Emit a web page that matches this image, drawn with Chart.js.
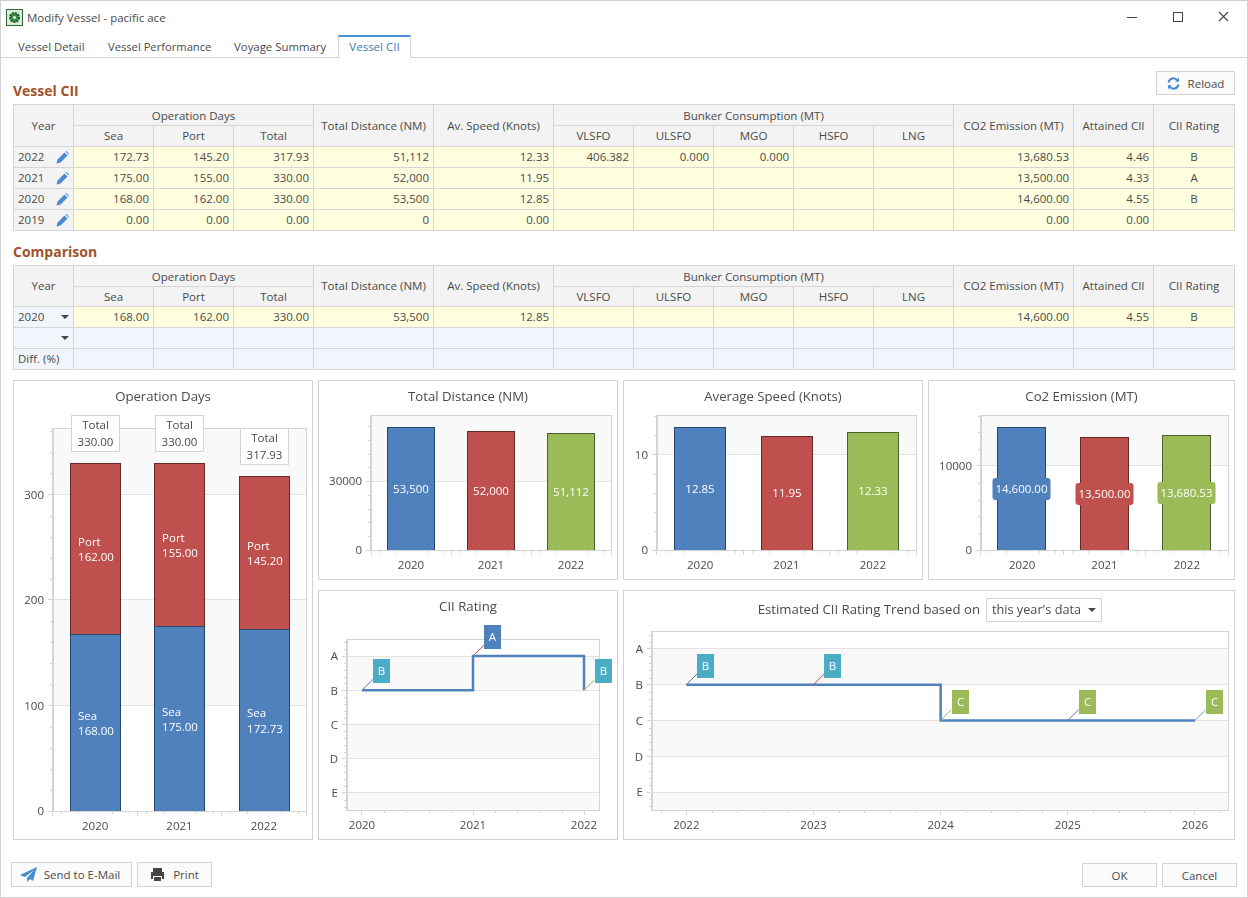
<!DOCTYPE html>
<html>
<head>
<meta charset="utf-8">
<title>Modify Vessel - pacific ace</title>
<script src="https://cdn.jsdelivr.net/npm/chart.js@4"></script>
<style>
    * { box-sizing: border-box; }
    html, body { margin: 0; padding: 0; background: #fff; }
    body { width: 1248px; height: 898px; position: relative; overflow: hidden; font: 11.5px "Open Sans", sans-serif; color: #4a4a4a; }
    .abs { position: absolute; white-space: nowrap; }
    #frame { left: 0; top: 0; width: 1248px; height: 898px; border: 1px solid #d0d0d0; border-top-width: 1px; }
    .tab { top: 39px; line-height: 16px; }
    .section { left: 13px; font-size: 14px; font-weight: 700; color: #a0522d; }
    .btn { border: 1px solid #d4d4d4; background: #fbfbfb; text-align: center; display: flex; align-items: center; justify-content: center; gap: 8px; }
    table { position: absolute; left: 13px; width: 1221px; table-layout: fixed; border-collapse: collapse; }
    td, th { border: 1px solid #d6d6d6; padding: 0 4px; font-weight: 400; overflow: hidden; white-space: nowrap; line-height: 14px; height: 21px; position: relative; }
    th { background: #f3f3f3; text-align: center; }
    th[colspan] { padding-top: 2px; }
    th.low { height: 20px; }
    td { background: #ffffe0; text-align: right; }
    td.c { text-align: center; }
    td.yr { background: #f3f3f3; text-align: left; }
    td.yrc { background: #f0f6fc; text-align: left; }
    td.blue { background: #f1f5fd; }
    .arrow { position: absolute; right: 4px; top: 8px; width: 0; height: 0; border-left: 4px solid transparent; border-right: 4px solid transparent; border-top: 4px solid #444; }
    .panel { position: absolute; border: 1px solid #d4d4d4; background: #fff; }
    .panel canvas { position: absolute; left: -1px; top: -1px; }
    .ctitle { position: absolute; left: 0; right: 0; top: 6px; text-align: center; font-size: 13.2px; line-height: 18px; }
</style>
</head>
<body>
<div class="abs" id="frame"></div>

<svg class="abs" style="left:6px;top:9px" width="17" height="17" viewBox="0 0 17 17">
    <rect x="0.5" y="0.5" width="16" height="16" fill="#d8ecd8" stroke="#2e6b3a"/>
    <circle cx="8.5" cy="8.5" r="4.5" fill="#3d8a4c" stroke="#1f5a2c" stroke-dasharray="2 1" stroke-width="2"/>
    <circle cx="8.5" cy="8.5" r="1.6" fill="#d8ecd8"/>
</svg>
<div class="abs" style="left:27px;top:10px;line-height:16px">Modify Vessel - pacific ace</div>
<svg class="abs" style="left:1120px;top:8px" width="115" height="20" viewBox="0 0 115 20" fill="none" stroke="#444">
    <path d="M7 9.5h10"/><rect x="53.5" y="4.5" width="9" height="9"/><path d="M99 4l9 9M108 4l-9 9" stroke-width="1.1"/>
</svg>

<div class="abs" style="left:1px;top:57px;width:1246px;height:1px;background:#d4d4d4"></div>
<div class="abs tab" style="left:18px;font-size:11.3px">Vessel Detail</div>
<div class="abs tab" style="left:108px;font-size:11.2px">Vessel Performance</div>
<div class="abs tab" style="left:234px;font-size:11.4px">Voyage Summary</div>
<div class="abs" style="left:338px;top:35px;width:73px;height:23px;background:#fff;border:1px solid #d4d4d4;border-top:2px solid #4a90d9;border-bottom:0;text-align:center;line-height:20px;color:#3f7cb8">Vessel CII</div>

<div class="abs section" style="top:82px;line-height:18px">Vessel CII</div>
<div class="abs btn" style="left:1156px;top:71px;width:79px;height:24px">
    <svg width="13" height="13" viewBox="0 0 13 13" fill="none" stroke="#4a8ad0" stroke-width="2"><path d="M1.5 5.5A5 5 0 0 1 10.5 3.5M11.5 7.5A5 5 0 0 1 2.5 9.5"/><path d="M12 0.8v4h-4zM1 12.2v-4h4z" fill="#4a8ad0" stroke="none"/></svg>
    <span>Reload</span>
</div>
<div class="abs section" style="top:243px;line-height:18px">Comparison</div>

<div class="panel" id="p-days" style="left:13px;top:380px;width:300px;height:460px"><div class="ctitle">Operation Days</div></div>
<div class="panel" id="p-dist" style="left:318px;top:380px;width:300px;height:200px"><div class="ctitle">Total Distance (NM)</div></div>
<div class="panel" id="p-speed" style="left:623px;top:380px;width:300px;height:200px"><div class="ctitle">Average Speed (Knots)</div></div>
<div class="panel" id="p-co2" style="left:928px;top:380px;width:307px;height:200px"><div class="ctitle">Co2 Emission (MT)</div></div>
<div class="panel" id="p-cii" style="left:318px;top:590px;width:300px;height:250px"><div class="ctitle">CII Rating</div></div>
<div class="panel" id="p-trend" style="left:623px;top:590px;width:612px;height:250px">
    <div class="abs" style="right:254px;top:9px;font-size:13.2px;line-height:18px">Estimated CII Rating Trend based on</div>
    <div class="abs" style="left:362px;top:7px;width:116px;height:24px;border:1px solid #d4d4d4;padding-left:5px;font-size:12.7px;line-height:21px">this year's data<span class="arrow" style="top:9px;right:5px"></span></div>
</div>

<div class="abs btn" style="left:11px;top:862px;width:121px;height:25px;gap:6px;padding-right:3px">
    <svg width="18" height="15" viewBox="0 0 18 15"><path d="M17 0L0 8l5 2 9-7-7 8v4l3-3 3 2z" fill="#4a8ad0"/></svg>
    <span>Send to E-Mail</span>
</div>
<div class="abs btn" style="left:137px;top:862px;width:75px;height:25px">
    <svg width="15" height="15" viewBox="0 0 15 15"><path d="M3 1h9v4H3zM1 5h13v7h-2V9H3v3H1zM4 10h7v4H4z" fill="#444"/></svg>
    <span>Print</span>
</div>
<div class="abs btn" style="left:1082px;top:863px;width:75px;height:24px">OK</div>
<div class="abs btn" style="left:1162px;top:863px;width:75px;height:24px">Cancel</div>

<script>
// table rows, newest first, as shown in the grid
const colWidths = [60, 80, 80, 80, 120, 120, 80, 80, 80, 80, 80, 120, 80, 81];
const vesselRows = [
    ['2022', '172.73', '145.20', '317.93', '51,112', '12.33', '406.382', '0.000', '0.000', '', '', '13,680.53', '4.46', 'B'],
    ['2021', '175.00', '155.00', '330.00', '52,000', '11.95', '', '', '', '', '', '13,500.00', '4.33', 'A'],
    ['2020', '168.00', '162.00', '330.00', '53,500', '12.85', '', '', '', '', '', '14,600.00', '4.55', 'B'],
    ['2019', '0.00', '0.00', '0.00', '0', '0.00', '', '', '', '', '', '0.00', '0.00', '']
];
const comparisonRow = ['2020', '168.00', '162.00', '330.00', '53,500', '12.85', '', '', '', '', '', '14,600.00', '4.55', 'B'];

// chart values
const years = ['2020', '2021', '2022'];
const seaDays = [168, 175, 172.73];
const portDays = [162, 155, 145.2];
const totalDays = [330, 330, 317.93];
const distances = [53500, 52000, 51112];
const speeds = [12.85, 11.95, 12.33];
const emissions = [14600, 13500, 13680.53];
const ratingLetters = ['E', 'D', 'C', 'B', 'A'];
const ciiYears = [2020, 2021, 2022];
const ciiRatings = ['B', 'A', 'B'];
const trendYears = [2022, 2023, 2024, 2025, 2026];
const trendRatings = ['B', 'B', 'C', 'C', 'C'];

const BLUE = '#4f81bd', RED = '#c0504d', GREEN = '#9bbb59', PURPLE = '#8064a2', TEAL = '#4bacc6';
const palette = [BLUE, RED, GREEN, PURPLE, TEAL];
const barEdges = ['#27466f', '#652a28', '#4e5e2c'];
const ratingColors = { A: BLUE, B: TEAL, C: GREEN };
const FONT = '"Open Sans", sans-serif';
const TEXT = '#4a4a4a';

Chart.defaults.font.family = FONT;
Chart.defaults.font.size = 11.5;
Chart.defaults.color = TEXT;
Chart.defaults.animation = false;

function cellsHtml(row) {
    return row.slice(1).map((v, i) => `<td class="${i === 12 ? 'c' : ''}">${v}</td>`).join('');
}

function headerHtml(subClass) {
    const subs = ['Sea', 'Port', 'Total', 'VLSFO', 'ULSFO', 'MGO', 'HSFO', 'LNG'];
    return `<colgroup>${colWidths.map(w => `<col style="width:${w}px">`).join('')}</colgroup>
    <tr><th rowspan="2">Year</th><th colspan="3">Operation Days</th><th rowspan="2">Total Distance (NM)</th><th rowspan="2">Av. Speed (Knots)</th>
    <th colspan="5">Bunker Consumption (MT)</th><th rowspan="2">CO2 Emission (MT)</th><th rowspan="2">Attained CII</th><th rowspan="2">CII Rating</th></tr>
    <tr>${subs.map(s => `<th class="${subClass}">${s}</th>`).join('')}</tr>`;
}

const pencil = '<svg style="position:absolute;right:4px;top:4px" width="13" height="13" viewBox="0 0 13 13"><path d="M0.5 12.5l1-4 7-7 3 3-7 7z M9.5 0.5l1-0.4 2.4 2.4-0.4 1z" fill="#4a8ad0"/></svg>';

function buildTables() {
    const vessel = document.createElement('table');
    vessel.style.top = '104px';
    vessel.innerHTML = headerHtml('') + vesselRows.map(r =>
        `<tr><td class="yr">${r[0]}${pencil}</td>${cellsHtml(r)}</tr>`).join('');
    document.body.appendChild(vessel);

    const blanks = new Array(13).fill('<td class="blue"></td>').join('');
    const comparison = document.createElement('table');
    comparison.style.top = '265px';
    comparison.innerHTML = headerHtml('low') +
        `<tr><td class="yrc">${comparisonRow[0]}<span class="arrow"></span></td>${cellsHtml(comparisonRow)}</tr>` +
        `<tr><td class="yrc"><span class="arrow"></span></td>${blanks}</tr>` +
        `<tr><td class="yr" style="background:#f1f5fd">Diff. (%)</td>${blanks}</tr>`;
    document.body.appendChild(comparison);
}

// alternating bands, outer frame and the short minor ticks of each plot
const plotFrame = {
    id: 'plotFrame',
    beforeDraw(chart) {
        const { ctx, chartArea: a, scales: { y } } = chart;
        ctx.save();
        ctx.fillStyle = '#f9f9f9';
        for (let i = -1; i < y.ticks.length; i++) {
            if (i % 2 === 0) continue;
            const bottom = i < 0 ? a.bottom : y.getPixelForTick(i);
            const top = i + 1 < y.ticks.length ? y.getPixelForTick(i + 1) : a.top;
            ctx.fillRect(a.left, top, a.right - a.left, bottom - top);
        }
        ctx.restore();
    },
    beforeDatasetsDraw(chart) {
        const { ctx, chartArea: a, scales: { x, y } } = chart;
        ctx.save();
        ctx.strokeStyle = '#d4d4d4';
        ctx.lineWidth = 1;
        ctx.strokeRect(Math.round(a.left) - 0.5, Math.round(a.top) + 0.5, Math.round(a.right - a.left) + 1, Math.round(a.bottom - a.top));
        ctx.beginPath();
        const sy = (y.getPixelForTick(1) - y.getPixelForTick(0)) / 5;
        for (let k = -30; k < 60; k++) {
            const p = y.getPixelForTick(0) + k * sy;
            if (k % 5 === 0 || p < a.top || p > a.bottom) continue;
            ctx.moveTo(a.left - 3, Math.round(p) + 0.5);
            ctx.lineTo(a.left, Math.round(p) + 0.5);
        }
        const sx = (x.getPixelForTick(1) - x.getPixelForTick(0)) / 5;
        for (let k = -10; k < 60; k++) {
            const p = x.getPixelForTick(0) + k * sx;
            if (k % 5 === 0 || p < a.left || p > a.right) continue;
            ctx.moveTo(Math.round(p) + 0.5, a.bottom);
            ctx.lineTo(Math.round(p) + 0.5, a.bottom + 3);
        }
        ctx.stroke();
        ctx.restore();
    }
};

// keeps the thin bar outlines on whole pixels so they stay dark
const crispBars = {
    id: 'crispBars',
    afterDatasetsUpdate(chart) {
        chart.data.datasets.forEach((ds, d) => {
            chart.getDatasetMeta(d).data.forEach(bar => {
                const left = Math.round(bar.x - bar.width / 2);
                const width = Math.round(bar.width);
                bar.x = left + width / 2;
                bar.width = width;
                bar.y = Math.round(bar.y);
                bar.base = Math.round(bar.base) + 1;
            });
        });
    }
};

const fmt = (v, d) => v.toLocaleString('en-US', { minimumFractionDigits: d, maximumFractionDigits: d });

function stackedLabels(names) {
    return {
        id: 'stackedLabels',
        afterDatasetsDraw(chart) {
            const { ctx } = chart;
            ctx.save();
            ctx.font = '11.5px ' + FONT;
            ctx.textBaseline = 'middle';
            names.forEach((name, ds) => {
                chart.getDatasetMeta(ds).data.forEach((bar, i) => {
                    const value = fmt(chart.data.datasets[ds].data[i], 2);
                    const mid = (bar.y + bar.base) / 2;
                    const left = bar.x - ctx.measureText(value).width / 2 + 0.5;
                    ctx.fillStyle = '#fff';
                    ctx.textAlign = 'left';
                    ctx.fillText(name, left, mid - 6.5);
                    ctx.fillText(value, left, mid + 9);
                });
            });
            const top = chart.getDatasetMeta(names.length - 1).data;
            top.forEach((bar, i) => {
                const boxTop = Math.round(bar.y) - 48;
                ctx.fillStyle = '#fff';
                ctx.strokeStyle = '#d4d4d4';
                ctx.fillRect(bar.x - 24.5, boxTop, 49, 37);
                ctx.strokeRect(Math.round(bar.x - 24.5) + 0.5, boxTop + 0.5, 48, 36);
                ctx.fillStyle = TEXT;
                ctx.textAlign = 'center';
                ctx.fillText('Total', bar.x, boxTop + 11);
                ctx.fillText(fmt(totalDays[i], 2), bar.x, boxTop + 28);
            });
            ctx.restore();
        }
    };
}

function centerLabels(decimals) {
    return {
        id: 'centerLabels',
        afterDatasetsDraw(chart) {
            const { ctx } = chart;
            const ds = chart.data.datasets[0];
            ctx.save();
            ctx.font = '11.5px ' + FONT;
            ctx.textAlign = 'center';
            ctx.textBaseline = 'middle';
            chart.getDatasetMeta(0).data.forEach((bar, i) => {
                const text = fmt(ds.data[i], decimals);
                const w = ctx.measureText(text).width + 6;
                const mid = (bar.y + bar.base) / 2;
                ctx.fillStyle = ds.backgroundColor[i];
                ctx.beginPath();
                ctx.roundRect(bar.x - w / 2, mid - 11, w, 22, 3);
                ctx.fill();
                ctx.fillStyle = '#fff';
                ctx.fillText(text, bar.x, mid + 0.5);
            });
            ctx.restore();
        }
    };
}

const ratingLabels = {
    id: 'ratingLabels',
    afterDatasetsDraw(chart) {
        const { ctx } = chart;
        const ratings = chart.options.plugins.ratingLabels.ratings;
        ctx.save();
        ctx.font = '11.5px ' + FONT;
        ctx.textAlign = 'center';
        ctx.textBaseline = 'middle';
        chart.getDatasetMeta(0).data.forEach((pt, i) => {
            ctx.strokeStyle = palette[i];
            ctx.beginPath();
            ctx.moveTo(pt.x, pt.y);
            ctx.lineTo(pt.x + 11, pt.y - 11);
            ctx.stroke();
            ctx.fillStyle = ratingColors[ratings[i]];
            ctx.fillRect(Math.round(pt.x) + 11, Math.round(pt.y) - 31, 17, 24);
            ctx.fillStyle = '#fff';
            ctx.fillText(ratings[i], Math.round(pt.x) + 19.5, Math.round(pt.y) - 18.5);
        });
        ctx.restore();
    }
};

function addCanvas(panelId) {
    const panel = document.getElementById(panelId);
    const canvas = document.createElement('canvas');
    canvas.width = panel.offsetWidth;
    canvas.height = panel.offsetHeight;
    panel.insertBefore(canvas, panel.firstChild);
    return canvas;
}

function axes(box, w, h) {
    // box = plot area inside the panel: left, top, right, bottom
    return {
        layout: { padding: { left: 0, top: box[1], right: w - box[2], bottom: 0 } },
        x: { afterFit: s => { s.height = h - box[3]; } },
        y: { afterFit: s => { s.width = box[0]; } }
    };
}

// the library would stretch stepSize to fit a fixed max, so pick the ticks here
function stepTicks(first, step) {
    return scale => {
        scale.ticks = [];
        for (let v = first; v <= scale.max; v += step) scale.ticks.push({ value: v });
    };
}

function barChart(panelId, box, datasets, yMax, yStep, plugins, stacked) {
    const canvas = addCanvas(panelId);
    const a = axes(box, canvas.width, canvas.height);
    return new Chart(canvas, {
        type: 'bar',
        data: { labels: years, datasets },
        options: {
            responsive: false,
            layout: a.layout,
            plugins: { legend: { display: false }, tooltip: { enabled: false } },
            scales: {
                x: {
                    stacked,
                    afterFit: a.x.afterFit,
                    grid: { drawOnChartArea: false, tickLength: 5, tickColor: '#d4d4d4' },
                    border: { color: '#d4d4d4' },
                    ticks: { padding: 4, maxRotation: 0, autoSkip: false }
                },
                y: {
                    stacked,
                    min: 0,
                    max: yMax,
                    afterFit: a.y.afterFit,
                    afterBuildTicks: stepTicks(0, yStep),
                    grid: { color: '#e2e2e2', tickLength: 5, tickColor: '#d4d4d4' },
                    border: { color: '#d4d4d4' },
                    ticks: { autoSkip: false, padding: 4, labelOffset: 1, callback: v => String(v) }
                }
            }
        },
        plugins: [plotFrame, crispBars, ...plugins]
    });
}

function barStyle(color, edge) {
    return { backgroundColor: color, borderColor: edge, borderWidth: 1, borderSkipped: false, barPercentage: 0.6, categoryPercentage: 1 };
}

function oneSeries(values) {
    return [{ data: values, ...barStyle([BLUE, RED, GREEN], barEdges) }];
}

function ratingChart(panelId, box, xs, ratings, xMin, xMax) {
    const canvas = addCanvas(panelId);
    const a = axes(box, canvas.width, canvas.height);
    return new Chart(canvas, {
        type: 'line',
        data: {
            datasets: [{
                data: xs.map((x, i) => ({ x, y: ratingLetters.indexOf(ratings[i]) + 1 })),
                borderColor: BLUE,
                borderWidth: 2.5,
                stepped: 'before',
                pointRadius: 0
            }]
        },
        options: {
            responsive: false,
            layout: a.layout,
            plugins: { legend: { display: false }, tooltip: { enabled: false }, ratingLabels: { ratings } },
            scales: {
                x: {
                    type: 'linear',
                    min: xMin,
                    max: xMax,
                    afterFit: a.x.afterFit,
                    afterBuildTicks: stepTicks(xs[0], 1),
                    grid: { drawOnChartArea: false, tickLength: 5, tickColor: '#d4d4d4' },
                    border: { color: '#d4d4d4' },
                    ticks: { autoSkip: false, padding: 4, maxRotation: 0, callback: v => String(v) }
                },
                y: {
                    min: 0.5,
                    max: 5.5,
                    afterFit: a.y.afterFit,
                    afterBuildTicks: stepTicks(1, 1),
                    grid: { color: '#e2e2e2', tickLength: 5, tickColor: '#d4d4d4' },
                    border: { color: '#d4d4d4' },
                    ticks: { autoSkip: false, padding: 4, labelOffset: 1, callback: v => ratingLetters[v - 1] }
                }
            }
        },
        plugins: [plotFrame, ratingLabels]
    });
}

function init() {
    buildTables();

    barChart('p-days', [40, 48, 293, 431],
        [{ data: seaDays, ...barStyle(BLUE, barEdges[0]) }, { data: portDays, ...barStyle(RED, barEdges[1]) }],
        363, 100, [stackedLabels(['Sea', 'Port'])], true);
    barChart('p-dist', [53, 35, 293, 170], oneSeries(distances), 58850, 30000, [centerLabels(0)], false);
    barChart('p-speed', [34, 35, 293, 170], oneSeries(speeds), 14.135, 10, [centerLabels(2)], false);
    barChart('p-co2', [53, 35, 300, 170], oneSeries(emissions), 16060, 10000, [centerLabels(2)], false);
    ratingChart('p-cii', [29, 49, 281, 220], ciiYears, ciiRatings, 2019.865, 2022.135);
    ratingChart('p-trend', [29, 41, 605, 220], trendYears, trendRatings, 2021.73, 2026.26);
}

init();
</script>
</body>
</html>
